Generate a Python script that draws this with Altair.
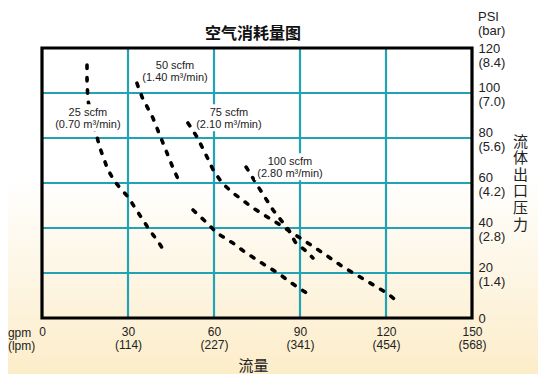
import altair as alt
import pandas as pd

# ---------------- data ----------------
# 25 scfm curve (gpm, psi)
scfm25_gpm = [15.7, 15.7, 16.0, 17.5, 19.2, 20.2, 23.0, 25.5, 27.9, 30.0, 35.2, 37.7, 40.1, 42.9]
scfm25_psi = [112.4, 105.8, 96.9, 88.0, 80.4, 75.6, 65.8, 60.4, 56.9, 53.8, 43.6, 38.7, 34.7, 29.3]
scfm25_seg = [0, 0, 0, 0, 0, 0, 0, 0, 0, 0, 0, 0, 0, 0]

# 50 scfm curve (segment 0 / 1: the drawn curve has a gap near 55 psi)
scfm50_gpm = [33.1, 34.9, 38.7, 42.2, 45.7, 48.1, 52.7, 57.6, 61.0, 66.6, 70.8, 75.0, 78.8, 82.3, 86.5, 90.7, 94.5]
scfm50_psi = [104.4, 98.2, 88.9, 77.8, 66.7, 60.0, 48.0, 42.2, 37.8, 33.3, 29.3, 25.8, 22.7, 20.0, 16.0, 12.4, 9.3]
scfm50_seg = [0, 0, 0, 0, 0, 0, 1, 1, 1, 1, 1, 1, 1, 1, 1, 1, 1]

# 75 scfm curve
scfm75_gpm = [50.9, 54.1, 56.9, 59.7, 62.8, 66.6, 73.6, 82.0, 90.0, 98.0, 105.0, 112.7, 120.3, 124.2]
scfm75_psi = [86.7, 80.4, 73.3, 65.8, 60.0, 55.6, 48.9, 42.2, 35.6, 28.9, 22.7, 16.9, 11.1, 7.1]

# 100 scfm curve
scfm100_gpm = [71.2, 75.7, 80.6, 85.8, 88.3, 91.7, 94.5]
scfm100_psi = [67.1, 57.8, 48.0, 39.6, 33.8, 30.2, 26.7]

# curve labels (anchor = first text line)
curve_labels = ["25 scfm\n(0.70 m³/min)", "50 scfm\n(1.40 m³/min)",
                "75 scfm\n(2.10 m³/min)", "100 scfm\n(2.80 m³/min)"]
curve_label_gpm = [16.0, 46.4, 65.2, 86.5]
curve_label_psi = [91.1, 112.0, 91.1, 69.3]

# axes ticks and labels
gpm_ticks = [0, 30, 60, 90, 120, 150]
lpm_labels = ["", "(114)", "(227)", "(341)", "(454)", "(568)"]
psi_ticks = [0, 20, 40, 60, 80, 100, 120]
bar_labels = ["", "(1.4)", "(2.8)", "(4.2)", "(5.6)", "(7.0)", "(8.4)"]

title_text = "空气消耗量图"
x_title = "流量"
y_title = "流体出口压力"
x_unit = "gpm\n(lpm)"
y_unit = "PSI\n(bar)"

# ---------------- build tables ----------------
rows = []
for name, gx, gy, seg in [
    ("25", scfm25_gpm, scfm25_psi, scfm25_seg),
    ("50", scfm50_gpm, scfm50_psi, scfm50_seg),
    ("75", scfm75_gpm, scfm75_psi, [0] * len(scfm75_gpm)),
    ("100", scfm100_gpm, scfm100_psi, [0] * len(scfm100_gpm)),
]:
    for i, (a, b, s) in enumerate(zip(gx, gy, seg)):
        rows.append({"gpm": a, "psi": b, "key": f"{name}-{s}", "order": i})
curves = pd.DataFrame(rows)

labels_df = pd.DataFrame({"gpm": curve_label_gpm, "psi": curve_label_psi, "text": curve_labels})


def label_expr(ticks, labels):
    expr = "''"
    for t, l in reversed(list(zip(ticks, labels))):
        val = f"['{t}', '{l}']" if l else f"'{t}'"
        expr = f"datum.value == {t} ? {val} : ({expr})"
    return expr


LABEL_FONT = "Liberation Sans"
CJK_FONT = "Noto Sans CJK SC"
TEAL = "#21a3b5"
TXT = "#222222"

xscale = alt.Scale(domain=[0, 150], nice=False, zero=False)
yscale = alt.Scale(domain=[0, 120], nice=False, zero=False)

xaxis = alt.Axis(values=gpm_ticks, labelExpr=label_expr(gpm_ticks, lpm_labels), grid=False,
                 domain=False, ticks=False, zindex=1,
                 labelFont=LABEL_FONT, labelFontSize=12, labelLineHeight=13, labelColor=TXT,
                 labelPadding=8, labelFlush=False, labelOverlap=False, labelBound=False,
                 title=x_title, titleFont=CJK_FONT, titleFontSize=15, titleFontWeight="normal",
                 titleColor=TXT, titleX=211, titleY=47, titleBaseline="middle", titleAlign="center")
yaxis = alt.Axis(values=psi_ticks, labelExpr=label_expr(psi_ticks, bar_labels), orient="right",
                 grid=False, domain=False, ticks=False, zindex=1,
                 labelFont=LABEL_FONT, labelFontSize=13, labelLineHeight=14,
                 labelColor=TXT, labelPadding=6, labelAlign="left", labelBaseline="middle",
                 labelOffset={"condition": {"test": "datum.value == 120 || datum.value == 0", "value": 0},
                              "value": -6},
                 labelFlush=False, labelOverlap=False, labelBound=False,
                 title=[c for c in y_title], titleAngle=0, titleFont=CJK_FONT, titleFontSize=15,
                 titleFontWeight="normal", titleColor=TXT, titleLineHeight=16.6,
                 titleX=48, titleY=93, titleAlign="center", titleBaseline="middle")

X = lambda: alt.X("gpm:Q", scale=xscale, axis=xaxis)
Y = lambda: alt.Y("psi:Q", scale=yscale, axis=yaxis)

gradient = alt.LinearGradient(
    gradient="linear",
    stops=[alt.GradientStop(color="#ffffff", offset=0),
           alt.GradientStop(color="#ffffff", offset=0.47),
           alt.GradientStop(color="#fcecc8", offset=1)],
    x1=0, x2=0, y1=0, y2=1,
)

# page background (white to cream)
bg = alt.Chart(pd.DataFrame({"a": [0]})).mark_rect(fill=gradient).encode(
    x=alt.value(-34), x2=alt.value(496), y=alt.value(-48), y2=alt.value(330)
)

vgrid = alt.Chart(pd.DataFrame({"gpm": gpm_ticks[1:-1]})).mark_rule(color=TEAL, strokeWidth=2.2).encode(x=X())
hgrid = alt.Chart(pd.DataFrame({"psi": psi_ticks[1:-1]})).mark_rule(color=TEAL, strokeWidth=2.2).encode(y=Y())

frame = alt.Chart(pd.DataFrame({"gpm": [gpm_ticks[0]], "gpm2": [gpm_ticks[-1]],
                                "psi": [psi_ticks[0]], "psi2": [psi_ticks[-1]]})).mark_rect(
    filled=False, stroke="black", strokeWidth=3.2
).encode(x=X(), x2="gpm2:Q", y=Y(), y2="psi2:Q")

lines = alt.Chart(curves).mark_line(
    color="black", strokeWidth=3.6, strokeDash=[3.4, 9], strokeCap="round"
).encode(x=X(), y=Y(), detail="key:N", order="order:Q")

# white boxes behind the curve labels (as in the reference)
boxes = alt.Chart(labels_df).mark_point(
    shape="M-1,-0.05H1V0.72H-1Z", size=4900, filled=True, color="white", opacity=1, yOffset=-7
).encode(x=X(), y=Y())

texts = alt.Chart(labels_df).mark_text(
    font=LABEL_FONT, fontSize=11, lineHeight=11.5, color=TXT, lineBreak="\n",
    align="center", baseline="middle"
).encode(x=X(), y=Y(), text="text:N")

units = alt.Chart(pd.DataFrame({"gpm": [150], "psi": [133.8], "text": [y_unit]})).mark_text(
    font=LABEL_FONT, fontSize=13, lineHeight=14, color=TXT, lineBreak="\n",
    align="left", baseline="middle", dx=6
).encode(x=X(), y=Y(), text="text:N")

units_x = alt.Chart(pd.DataFrame({"gpm": [-11.9], "psi": [-6.7], "text": [x_unit]})).mark_text(
    font=LABEL_FONT, fontSize=12, lineHeight=13, color=TXT, lineBreak="\n",
    align="left", baseline="middle"
).encode(x=X(), y=Y(), text="text:N")

chart = alt.layer(bg, vgrid, hgrid, lines, boxes, texts, units, units_x, frame).properties(
    width=430, height=270,
    autosize="none",
    padding={"left": 34, "top": 40, "right": 70, "bottom": 56},
    title=alt.TitleParams(title_text, font=CJK_FONT, fontSize=16, fontWeight="bold",
                          color="#111", anchor="middle", offset=0, dy=58, dx=-4, frame="group",
                          baseline="bottom"),
    background="white",
).configure_view(stroke=None)

chart.save("out.html", embed_options={"renderer": "svg", "actions": False})
